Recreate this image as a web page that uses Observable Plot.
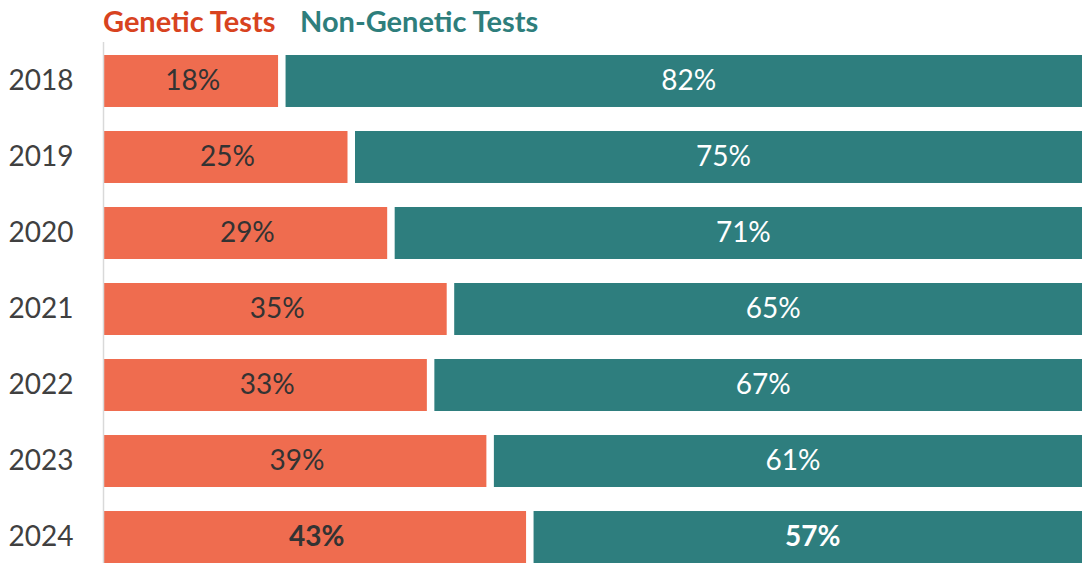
<!DOCTYPE html>
<html><head><meta charset="utf-8">
<script src="https://cdn.jsdelivr.net/npm/d3@7"></script>
<script src="https://cdn.jsdelivr.net/npm/@observablehq/plot@0.6"></script>
<style>
html,body{margin:0;padding:0;background:#fff;overflow:hidden;width:1082px;height:563px}
#legend{height:42px;position:relative;font-family:Lato,sans-serif;font-weight:700;font-size:29px;line-height:42px}
#legend span{position:absolute;top:0;white-space:nowrap}
#chart svg{max-width:none !important;width:1100px !important;height:521px !important;display:block}
</style></head>
<body>
<div id="legend"></div>
<div id="chart"></div>
<script>
const years = ["2018","2019","2020","2021","2022","2023","2024"];
const genetic = [18,25,29,35,33,39,43];
const nonGenetic = [82,75,71,65,67,61,57];
const seriesNames = ["Genetic Tests","Non-Genetic Tests"];
const barColors = ["#EF6C4F","#2E7E7E"];
const legendColors = ["#D8431F","#2E7E7C"];
const labelColors = ["#333333","#ffffff"];
const boldYear = "2024";

const leg = document.getElementById("legend");
[103, 300].forEach((left,i)=>{
  const s = document.createElement("span");
  s.textContent = seriesNames[i];
  s.style.left = left + "px";
  s.style.color = legendColors[i];
  leg.appendChild(s);
});

const data = years.flatMap((y,i)=>[
  {year:y, series:seriesNames[0], value:genetic[i], idx:0},
  {year:y, series:seriesNames[1], value:nonGenetic[i], idx:1}
]);
const gen = data.filter(d=>d.idx===0);
const non = years.map((y,i)=>({year:y, start:genetic[i], end:genetic[i]+nonGenetic[i]}));

const normalData = data.filter(d=>d.year!==boldYear);
const boldData = data.filter(d=>d.year===boldYear);

const chart = Plot.plot({
  width: 1100,
  height: 521,
  marginLeft: 103,
  marginRight: 5,
  marginTop: 13,
  marginBottom: 0,
  style: {fontFamily: "Lato, sans-serif", background: "transparent"},
  x: {domain: [0,100], axis: null},
  y: {domain: years, range: [13, 521], paddingInner: 0.316, paddingOuter: 0, round: false, label: null},
  color: {type: "identity"},
  marks: [
    Plot.barX(gen, {x1: 0, x2: "value", y: "year", fill: barColors[0], insetRight: 3.5, insetLeft: 1}),
    Plot.barX(non, {x1: "start", x2: "end", y: "year", fill: barColors[1], insetLeft: 4}),
    Plot.ruleX([0], {stroke: "#d9d9d9", strokeWidth: 1.5, insetTop: -13}),
    Plot.text(normalData, Plot.stackX({x: "value", y: "year", text: d=>d.value+"%", fill: d=>labelColors[d.idx], fontSize: 28})),
    Plot.text(boldData, Plot.stackX({x: "value", y: "year", text: d=>d.value+"%", fill: d=>labelColors[d.idx], fontSize: 28, fontWeight: "bold"})),
    Plot.axisY({tickSize: 0, tickPadding: 30, fontSize: 28, color: "#404040", label: null})
  ]
});
document.getElementById("chart").appendChild(chart);
</script>
</body></html>
